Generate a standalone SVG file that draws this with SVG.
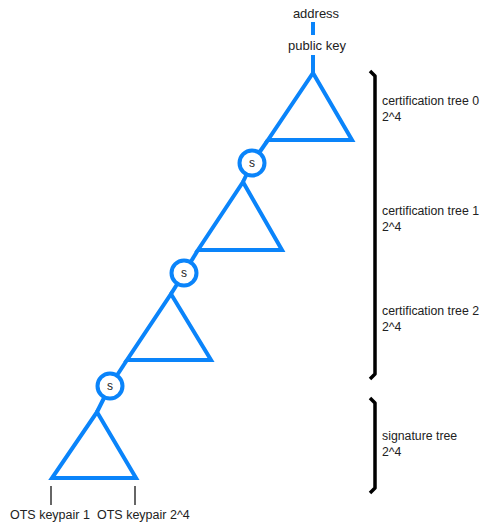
<svg xmlns="http://www.w3.org/2000/svg" width="481" height="523" viewBox="0 0 481 523">
<style>
.tri{fill:none;stroke:#0a84fa;stroke-width:4;stroke-linejoin:miter}
.c{fill:#fff;stroke:#0a84fa;stroke-width:4}
.ln{fill:none;stroke:#0a84fa;stroke-width:4}
.br{fill:none;stroke:#000;stroke-width:3.5;stroke-linejoin:round}
.tk{stroke:#333;stroke-width:1.5}
text{font-family:"Liberation Sans",Arial,sans-serif;fill:#222;font-size:12.5px}
.s{font-size:12px;text-anchor:middle}
</style>
<rect width="481" height="523" fill="#fff"/>
<g id="connectors">
<line class="ln" x1="313" y1="22" x2="313" y2="35"/>
<line class="ln" x1="313" y1="55" x2="313" y2="73"/>
<line class="ln" x1="268" y1="140" x2="252" y2="163"/>
<line class="ln" x1="252" y1="163" x2="243" y2="182"/>
<line class="ln" x1="198" y1="250" x2="184" y2="273"/>
<line class="ln" x1="184" y1="273" x2="171" y2="294"/>
<line class="ln" x1="127" y1="360" x2="110" y2="386"/>
<line class="ln" x1="110" y1="386" x2="97" y2="412"/>
<line class="tk" x1="51" y1="486" x2="51" y2="505"/>
<line class="tk" x1="135" y1="486" x2="135" y2="505"/>
</g>
<g id="address"><text x="316" y="18" text-anchor="middle" style="font-size:13px">address</text></g>
<g id="pubkey"><text x="317" y="50" text-anchor="middle" style="font-size:13px">public key</text></g>
<g id="tree0"><polygon class="tri" points="313,73 352,140 268,140"/></g>
<g id="tree1"><polygon class="tri" points="243,182 282,250 198,250"/></g>
<g id="tree2"><polygon class="tri" points="171,294 211,360 127,360"/></g>
<g id="tree3"><polygon class="tri" points="97,412 136,478 52,478"/></g>
<g id="s1"><circle class="c" cx="252" cy="163" r="12.5"/><text class="s" x="252" y="167">s</text></g>
<g id="s2"><circle class="c" cx="184" cy="273" r="12.5"/><text class="s" x="184" y="277">s</text></g>
<g id="s3"><circle class="c" cx="110" cy="386" r="12.5"/><text class="s" x="110" y="390">s</text></g>
<g id="bracket1"><path class="br" d="M370,71 L375,76 L375,374 L370,379"/></g>
<g id="bracket2"><path class="br" d="M370,398 L375,403 L375,488 L370,493"/></g>
<g id="labels">
<text x="382" y="105" style="font-size:12.3px">certification tree 0</text>
<text x="382" y="121" style="font-size:12.3px">2^4</text>
<text x="382" y="215" style="font-size:12.3px">certification tree 1</text>
<text x="382" y="231" style="font-size:12.3px">2^4</text>
<text x="382" y="315" style="font-size:12.3px">certification tree 2</text>
<text x="382" y="331" style="font-size:12.3px">2^4</text>
<text x="382" y="440" style="font-size:12.3px">signature tree</text>
<text x="382" y="456" style="font-size:12.3px">2^4</text>
<text x="10" y="519">OTS keypair 1</text>
<text x="97" y="519">OTS keypair 2^4</text>
</g>
</svg>
